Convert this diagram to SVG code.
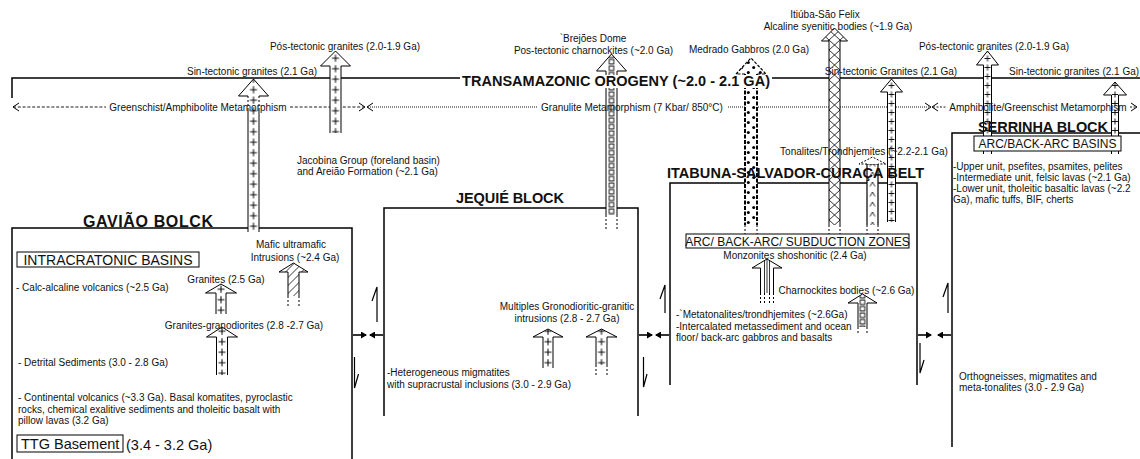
<svg xmlns="http://www.w3.org/2000/svg" width="1140" height="459" viewBox="0 0 1140 459">
<style>
text{font-family:"Liberation Sans",Arial,sans-serif;fill:#111}
.s{font-size:10px}
.m{font-size:12px}
.l{font-size:14.5px}
.b{font-size:14.5px;font-weight:bold}
.mid{text-anchor:middle}
.ln{stroke:#000;stroke-width:1.5;fill:none}
.ar{stroke:#000;stroke-width:1;stroke-linejoin:miter}
.dx{stroke:#000;stroke-width:1;stroke-dasharray:2 2;fill:none}
.box{fill:#fff;stroke:#000;stroke-width:1}
.ch{stroke:#000;stroke-width:1;fill:none}
.fa{stroke:#000;stroke-width:1.6;fill:none;marker-end:url(#ah)}
.ha{stroke:#000;stroke-width:1.2;fill:none}
</style>
<defs>
<marker id="ah" markerUnits="userSpaceOnUse" markerWidth="7" markerHeight="7" refX="5" refY="3.5" orient="auto">
<path d="M0 0L6 3.5L0 7z" fill="#000"/>
</marker>
<pattern id="pPlus" patternUnits="userSpaceOnUse" x="-10" y="0" width="20" height="10.5">
<rect width="20" height="10.5" fill="#fff"/>
<path d="M10 2.2v7M6.5 5.7h7" stroke="#000" stroke-width="1"/>
</pattern>
<pattern id="pPlusS" patternUnits="userSpaceOnUse" x="-10" y="0" width="20" height="9">
<rect width="20" height="9" fill="#fff"/>
<path d="M10 1.5v6M7 4.5h6" stroke="#000" stroke-width="0.9"/>
</pattern>
<pattern id="pSq" patternUnits="userSpaceOnUse" x="-10" y="0" width="20" height="6.5">
<rect width="20" height="6.5" fill="#fff"/>
<rect x="7.75" y="1" width="4.5" height="4.5" fill="#fff" stroke="#000" stroke-width="0.9"/>
</pattern>
<pattern id="pDot" patternUnits="userSpaceOnUse" x="-6" y="0" width="12" height="10">
<rect width="12" height="10" fill="#fff"/>
<circle cx="3.3" cy="2.5" r="1.5" fill="#000"/>
<circle cx="8.7" cy="7.5" r="1.5" fill="#000"/>
</pattern>
<pattern id="pX" patternUnits="userSpaceOnUse" x="-5.5" y="0" width="11" height="10">
<rect width="11" height="10" fill="#fff"/>
<path d="M0 0L11 10M11 0L0 10" stroke="#000" stroke-width="0.8"/>
</pattern>
<pattern id="pH" patternUnits="userSpaceOnUse" x="0" y="0" width="8" height="8">
<rect width="8" height="8" fill="#fff"/>
<path d="M0 8L8 0M-1 1L1 -1M7 9L9 7" stroke="#000" stroke-width="0.8"/>
</pattern>
<pattern id="pCh" patternUnits="userSpaceOnUse" x="-10" y="0" width="20" height="10">
<rect width="20" height="10" fill="#fff"/>
<path d="M7.5 6.5L10 2L12.5 6.5" stroke="#000" stroke-width="0.8" fill="none"/>
</pattern>
<pattern id="pV" patternUnits="userSpaceOnUse" x="-10" y="0" width="20" height="10">
<rect width="20" height="10" fill="#fff"/>
<path d="M7.5 0V10M10 0V10M12.5 0V10" stroke="#000" stroke-width="0.8"/>
</pattern>
</defs>
<rect width="1140" height="459" fill="#fff"/>

<!-- block outlines -->
<g id="gaviao-block">
<path class="ln" d="M12 459V228H352V459"/>
</g>
<g id="jequie-block">
<path class="ln" d="M384 416V208H638V416"/>
</g>
<g id="itabuna-belt">
<path class="ln" d="M670 385V183H917V385"/>
</g>
<g id="serrinha-block">
<path class="ln" d="M952 447V133H1140"/>
</g>

<!-- orogeny / metamorphism lines and fault arrows -->
<g id="connectors">
<path class="ln" d="M12 98V78H460M772 78H1140"/>
<path d="M13 107H106M290 107H364" stroke="#000" stroke-width="0.9" stroke-dasharray="3 1.8" fill="none"/>
<path class="ch" d="M19 103L13 107L19 111M359 103L365 107L359 111M373 103L367 107L373 111"/>
<path d="M368 107H537M728 107H929" stroke="#000" stroke-width="0.9" stroke-dasharray="1 1" fill="none"/>
<path class="ch" d="M925 103L931 107L925 111M938 103L932 107L938 111"/>
<path d="M933 107H946M1130 107H1136" stroke="#000" stroke-width="0.9" stroke-dasharray="2 1.5" fill="none"/>
<path class="ch" d="M1131 103L1137 107L1131 111"/>
<line class="fa" x1="353" y1="335" x2="366" y2="335"/>
<line class="fa" x1="383" y1="335" x2="370" y2="335"/>
<line class="fa" x1="639" y1="335" x2="652" y2="335"/>
<line class="fa" x1="669" y1="335" x2="656" y2="335"/>
<line class="fa" x1="918" y1="335" x2="931" y2="335"/>
<line class="fa" x1="951" y1="335" x2="938" y2="335"/>
<path class="ha" d="M377 322V287L372 301"/>
<path class="ha" d="M354.5 357V388L358.5 374"/>
<path class="ha" d="M665 313V285L660 299"/>
<path class="ha" d="M643.5 357V387L647 374"/>
<path class="ha" d="M948 313V283L943 297"/>
<path class="ha" d="M920 343V373L924 360"/>
</g>

<!-- intrusion arrows -->
<g id="arr-sin-left" transform="translate(253.5 0)">
<path fill="url(#pPlus)" d="M-5.5 232V96H-15L0 79L15 96H5.5V232z"/>
<path class="ar" fill="none" d="M-5.5 96H-15L0 79L15 96H5.5M-5.5 110V232M5.5 110V232"/>
<path class="dx" d="M-5.5 96V110M5.5 96V110"/>
</g>
<g id="arr-pos-left" transform="translate(335.5 0)">
<path class="ar" fill="url(#pPlus)" d="M-5.5 133V66H-15L0 51L15 66H5.5V133"/>
</g>
<g id="arr-brejoes" transform="translate(611.5 0)">
<path class="ar" fill="url(#pSq)" d="M-5.5 215V71H-15L0 54L15 71H5.5V215"/>
<path class="dx" d="M-5.5 215V230M5.5 215V230"/>
</g>
<g id="arr-medrado" transform="translate(751 0)">
<path fill="url(#pDot)" d="M-6 225V74H-15L0 58L15 74H6V225z"/>
<path d="M-15 74L0 58L15 74H6M-6 74H-15" stroke="#000" stroke-width="1.2" fill="none" stroke-dasharray="3 1.5"/>
<path d="M-6 74V225M6 74V225" stroke="#000" stroke-width="2" fill="none" stroke-dasharray="4 1.5"/>
<path class="dx" d="M-6 225V234M6 225V234"/>
</g>
<g id="arr-itiuba" transform="translate(834.5 0)">
<path class="ar" fill="url(#pX)" d="M-5.5 225V41H-13L0 28L13 41H5.5V225"/>
<path class="dx" d="M-5.5 225V235M5.5 225V235"/>
</g>
<g id="arr-sin-belt" transform="translate(891.5 0)">
<path class="ar" fill="url(#pPlusS)" d="M-4 222V92H-11L0 79L11 92H4V222"/>
</g>
<g id="arr-tonalites" transform="translate(872.5 0)">
<path fill="url(#pCh)" stroke="#000" stroke-width="1.2" d="M-5.5 225V164H5.5V225"/>
<path d="M-5.5 164H-13.5L0 157L13.5 164H5.5" fill="#fff" stroke="#000" stroke-width="1" stroke-dasharray="2 1.5"/>
<path class="dx" d="M-5.5 225V234M5.5 225V234"/>
</g>
<g id="arr-pos-right" transform="translate(987.5 0)">
<path class="ar" fill="url(#pPlusS)" d="M-4 154V65H-11L0 51L11 65H4V154"/>
</g>
<g id="arr-sin-right" transform="translate(1115 0)">
<path class="ar" fill="url(#pPlusS)" d="M-3.5 154V95H-11.5L0 82L11.5 95H3.5V154"/>
</g>
<g id="arr-mafic" transform="translate(293.5 0)">
<path class="ar" fill="url(#pH)" d="M-5.5 296V272H-14.5L0 263L14.5 272H5.5V296"/>
<path class="dx" d="M-5.5 296V308M5.5 296V308"/>
</g>
<g id="arr-granites25" transform="translate(221 0)">
<path class="ar" fill="url(#pPlus)" d="M-5 314V293H-15.5L0 284L15.5 293H5V314"/>
</g>
<g id="arr-granodiorites" transform="translate(222 0)">
<path class="ar" fill="url(#pPlus)" d="M-5.5 375V337H-15.5L0 327L15.5 337H5.5V375"/>
</g>
<g id="arr-multiples-a" transform="translate(548 0)">
<path class="ar" fill="url(#pPlus)" d="M-5 368V337H-15L0 329L15 337H5V368"/>
</g>
<g id="arr-multiples-b" transform="translate(601.5 0)">
<path class="ar" fill="url(#pPlus)" d="M-5.5 365V337H-15.5L0 329L15.5 337H5.5V365"/>
<path class="dx" d="M-5.5 365V375M5.5 365V375"/>
</g>
<g id="arr-monzonites" transform="translate(767 0)">
<path class="ar" fill="url(#pV)" d="M-6.5 293V268H-15L0 259L15 268H6.5V293"/>
<path class="dx" d="M-6.5 293V305M6.5 293V305M-2.5 293V305M2.5 293V305"/>
</g>
<g id="arr-charnockites" transform="translate(862.5 0)">
<path class="ar" fill="url(#pSq)" d="M-4.5 327V303H-14.5L0 294L14.5 303H4.5V327"/>
<path class="dx" d="M-4.5 327V335M4.5 327V335"/>
</g>

<!-- title over the orogeny line -->
<g id="orogeny">
<rect x="461" y="75" width="311" height="13" fill="#fff"/>
<text class="b" x="462" y="86" textLength="308">TRANSAMAZONIC OROGENY (~2.0 - 2.1 GA)</text>
</g>

<!-- metamorphism labels -->
<g id="metamorphism">
<text class="s mid" x="198" y="110.5">Greenschist/Amphibolite Metamorphism</text>
<text class="s mid" x="632" y="110.5">Granulite Metamorphism (7 Kbar/ 850°C)</text>
<text class="s mid" x="1038" y="110.5">Amphibolite/Greenschist Metamorphism</text>
</g>

<!-- intrusion labels -->
<g id="intrusion-labels">
<text class="s mid" x="252" y="75">Sin-tectonic granites (2.1 Ga)</text>
<text class="s mid" x="345" y="50">Pós-tectonic granites (2.0-1.9 Ga)</text>
<text class="s mid" x="593" y="42">`Brejões Dome</text>
<text class="s mid" x="593.5" y="54">Pos-tectonic charnockites (~2.0 Ga)</text>
<text class="s mid" x="749" y="53">Medrado Gabbros (2.0 Ga)</text>
<text class="s mid" x="825" y="18">Itiúba-São Felix</text>
<text class="s mid" x="838" y="30">Alcaline syenitic bodies (~1.9 Ga)</text>
<text class="s mid" x="891" y="75">Sin-tectonic Granites (2.1 Ga)</text>
<text class="s mid" x="994" y="50">Pós-tectonic granites (2.0-1.9 Ga)</text>
<text class="s" x="1009" y="75">Sin-tectonic granites (2.1 Ga)</text>
<text class="s" x="297" y="164">Jacobina Group (foreland basin)</text>
<text class="s" x="297" y="175">and Areião Formation (~2.1 Ga)</text>
<text class="s mid" x="864" y="155">Tonalites/Trondhjemites (~2.2-2.1 Ga)</text>
</g>

<!-- Gavião texts -->
<g id="gaviao-text">
<text class="b" style="font-size:16px" x="83" y="227" textLength="130">GAVIÃO BOLCK</text>
<rect class="box" x="17" y="252" width="182" height="15"/>
<text class="mid" style="font-size:14px" x="108" y="265">INTRACRATONIC BASINS</text>
<text class="s" x="16" y="291">- Calc-alcaline volcanics (~2.5 Ga)</text>
<text class="s mid" x="291" y="248">Mafic ultramafic</text>
<text class="s mid" x="295" y="261">Intrusions (~2.4 Ga)</text>
<text class="s mid" x="226" y="283">Granites (2.5 Ga)</text>
<text class="s mid" x="244" y="329">Granites-granodiorites (2.8 -2.7 Ga)</text>
<text class="s" x="18" y="366">- Detrital Sediments (3.0 - 2.8 Ga)</text>
<text class="s" x="18" y="401">- Continental volcanics (~3.3 Ga). Basal komatites, pyroclastic</text>
<text class="s" x="18" y="413">rocks, chemical exalitive sediments and tholeitic basalt with</text>
<text class="s" x="18" y="424">pillow lavas (3.2 Ga)</text>
<rect class="box" x="17" y="435" width="106" height="17"/>
<text class="l" x="21" y="449">TTG Basement</text>
<text class="l" x="126" y="450">(3.4 - 3.2 Ga)</text>
</g>

<!-- Jequié texts -->
<g id="jequie-text">
<text class="b" x="456" y="203" textLength="108">JEQUIÉ BLOCK</text>
<text class="s mid" x="567" y="310">Multiples Gronodioritic-granitic</text>
<text class="s mid" x="567" y="322">intrusions (2.8 - 2.7 Ga)</text>
<text class="s" x="387" y="376">-Heterogeneous migmatites</text>
<text class="s" x="387" y="388">with supracrustal inclusions (3.0 - 2.9 Ga)</text>
</g>

<!-- Itabuna texts -->
<g id="itabuna-text">
<text class="b" x="667" y="178" textLength="257">ITABUNA-SALVADOR-CURAÇA BELT</text>
<rect class="box" x="686" y="234" width="223" height="14"/>
<text class="m mid" x="797.5" y="246">ARC/ BACK-ARC/ SUBDUCTION ZONES</text>
<text class="s mid" x="795" y="259">Monzonites shoshonitic (2.4 Ga)</text>
<text class="s mid" x="846.5" y="294">Charnockites bodies (~2.6 Ga)</text>
<text class="s" x="676" y="318">-`Metatonalites/trondhjemites (~2.6Ga)</text>
<text class="s" x="676" y="330">-Intercalated metassediment and ocean</text>
<text class="s" x="676" y="341">floor/ back-arc gabbros and basalts</text>
</g>

<!-- Serrinha texts -->
<g id="serrinha-text">
<text class="b" x="978" y="132" textLength="130">SERRINHA BLOCK</text>
<rect class="box" x="974" y="136" width="147" height="15"/>
<text class="m mid" x="1047.5" y="148">ARC/BACK-ARC BASINS</text>
<text class="s" x="953" y="170">-Upper unit, psefites, psamites, pelites</text>
<text class="s" x="953" y="181">-Intermediate unit, felsic lavas (~2.1 Ga)</text>
<text class="s" x="953" y="192">-Lower unit, tholeitic basaltic lavas (~2.2</text>
<text class="s" x="953" y="203">Ga), mafic tuffs, BIF, cherts</text>
<text class="s" x="959" y="380">Orthogneisses, migmatites and</text>
<text class="s" x="959" y="391">meta-tonalites (3.0 - 2.9 Ga)</text>
</g>
</svg>
